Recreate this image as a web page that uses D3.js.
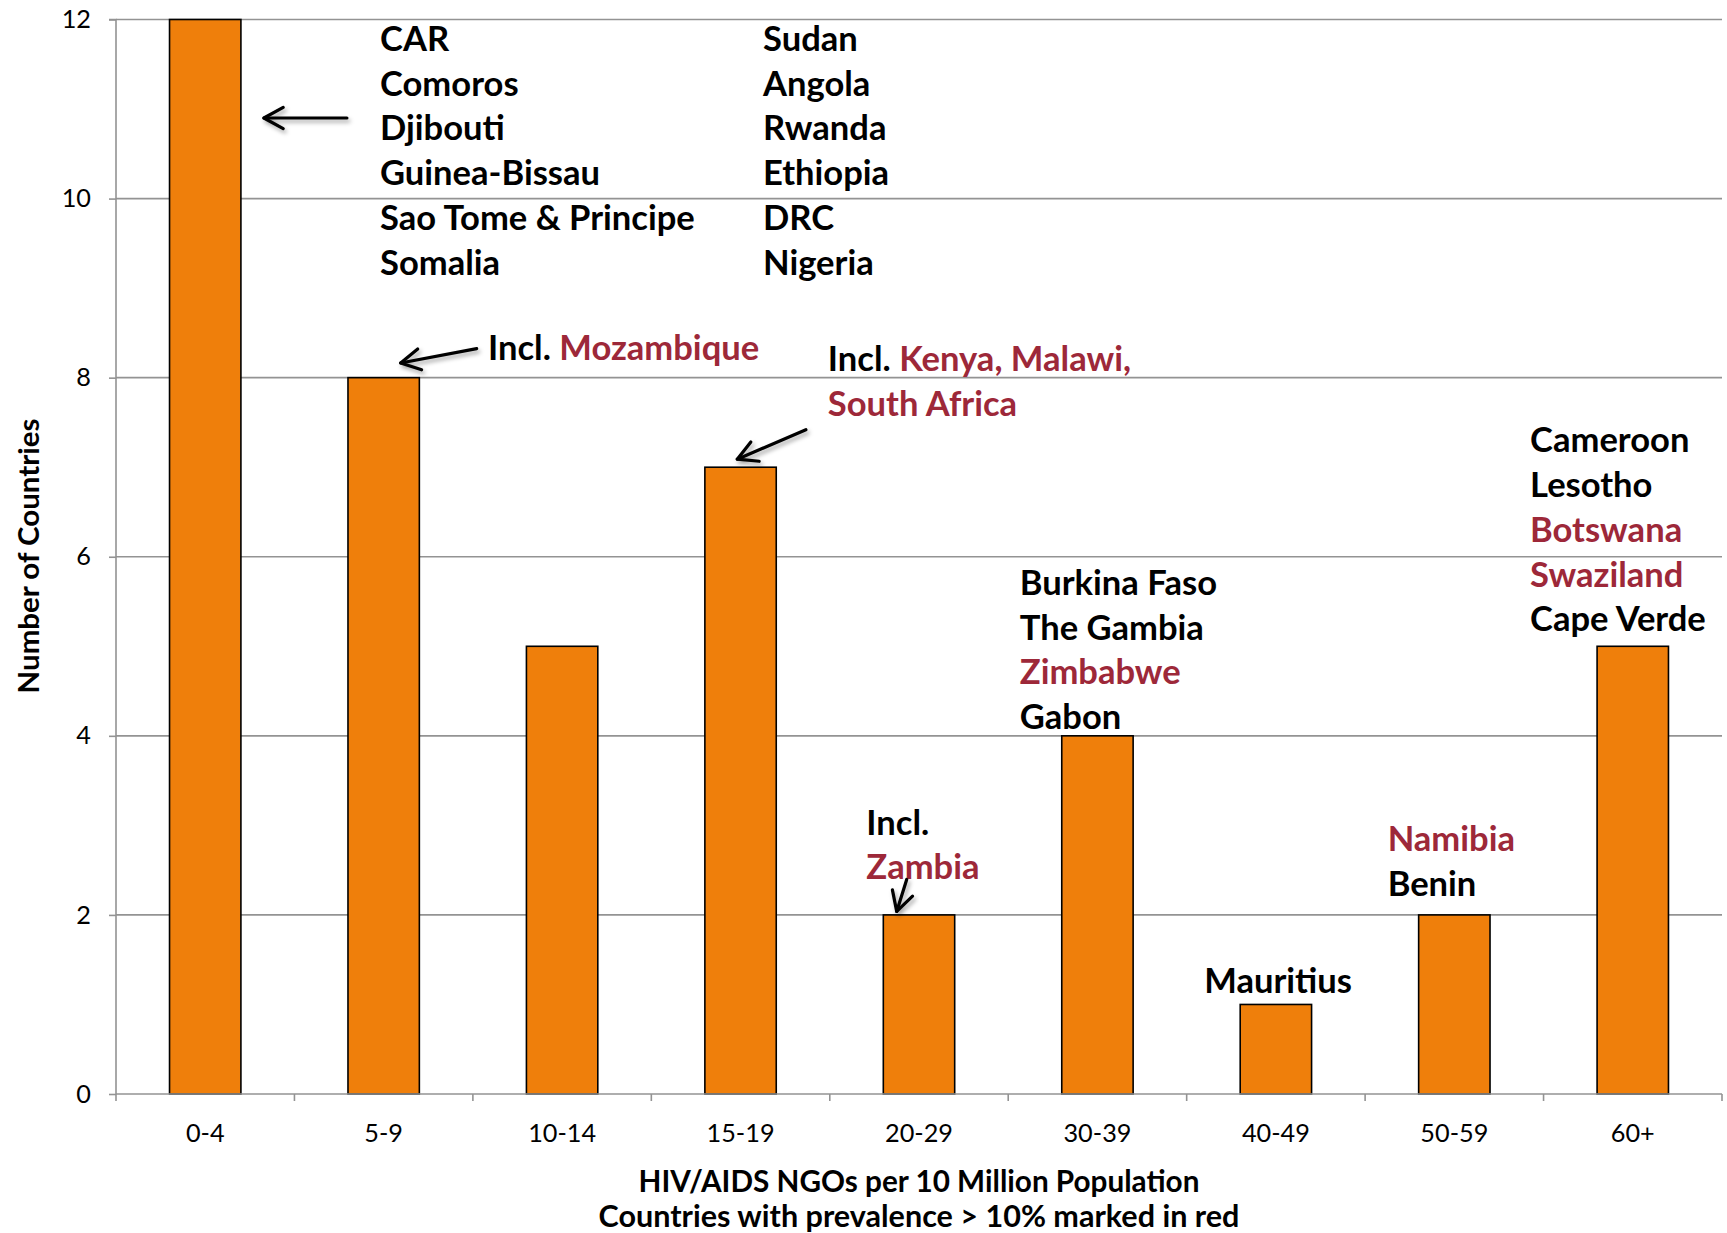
<!DOCTYPE html>
<html><head><meta charset="utf-8">
<script src="https://cdn.jsdelivr.net/npm/d3@7"></script>
<style>body{margin:0;background:#fff}svg{display:block}</style>
</head><body>
<svg id="c" width="1727" height="1233"></svg>
<script>
// ---------- data ----------
const categories = ["0-4","5-9","10-14","15-19","20-29","30-39","40-49","50-59","60+"];
const counts = [12, 8, 5, 7, 2, 4, 1, 2, 5];
const yTicks = [0, 2, 4, 6, 8, 10, 12];
const yTitle = "Number of Countries";
const xTitleLines = ["HIV/AIDS NGOs per 10 Million Population", "Countries with prevalence > 10% marked in red"];
// country lists: [name, prevalence > 10%]
const list0a = [["CAR",0],["Comoros",0],["Djibouti",0],["Guinea-Bissau",0],["Sao Tome & Principe",0],["Somalia",0]];
const list0b = [["Sudan",0],["Angola",0],["Rwanda",0],["Ethiopia",0],["DRC",0],["Nigeria",0]];
const list30 = [["Burkina Faso",0],["The Gambia",0],["Zimbabwe",1],["Gabon",0]];
const list40 = [["Mauritius",0]];
const list50 = [["Namibia",1],["Benin",0]];
const list60 = [["Cameroon",0],["Lesotho",0],["Botswana",1],["Swaziland",1],["Cape Verde",0]];
const inclMoz = [[["Incl. ",0],["Mozambique",1]]];
const inclKenya = [[["Incl. ",0],["Kenya, Malawi,",1]],[["South Africa",1]]];
const inclZambia = [[["Incl.",0]],[["Zambia",1]]];

// ---------- styles ----------
const ORANGE = "#ef7f0b", RED = "#9d2839", GRID = "#939393";
const plot = {left:116, right:1722, top:19.5, bottom:1094};
const svg = d3.select("#c");

const x = d3.scaleBand().domain(categories).range([plot.left, plot.right]).paddingInner(0.6).paddingOuter(0.3);
const y = d3.scaleLinear().domain([0,12]).range([plot.bottom, plot.top]);
const step = x.step(), bw = x.bandwidth();

// font fitting helper
function fitSize(text, family, weight, target, base=30){
  const t = svg.append("text").attr("font-family",family).attr("font-weight",weight).attr("font-size",base).text(text);
  const w = t.node().getComputedTextLength(); t.remove();
  return base*target/w;
}
const BOLD = "Lato", LIGHT = "Lato", AW = 700;
const annSize = fitSize("Sao Tome & Principe", BOLD, AW, 315);
const tickSize = fitSize("10-14", LIGHT, 400, 68, 22);
const xTitleSize1 = fitSize(xTitleLines[0], BOLD, AW, 561, 24);
const xTitleSize2 = fitSize(xTitleLines[1], BOLD, AW, 641, 24);
const yTitleSize = fitSize(yTitle, BOLD, AW, 275, 24);

// defs: arrow shadow
const defs = svg.append("defs");
const f = defs.append("filter").attr("id","sh").attr("x","-30%").attr("y","-60%").attr("width","160%").attr("height","220%");
f.append("feDropShadow").attr("dx",2).attr("dy",3).attr("stdDeviation",2).attr("flood-color","#000").attr("flood-opacity",0.35);

// gridlines
svg.append("g").selectAll("line").data(yTicks.filter(d=>d>0)).join("line")
  .attr("x1",plot.left).attr("x2",plot.right).attr("y1",d=>y(d)).attr("y2",d=>y(d))
  .attr("stroke",GRID).attr("stroke-width",1.6);

// bars
svg.append("g").selectAll("rect").data(categories).join("rect")
  .attr("x",d=>x(d)).attr("width",bw)
  .attr("y",(d,i)=>y(counts[i])).attr("height",(d,i)=>y(0)-y(counts[i]))
  .attr("fill",ORANGE).attr("stroke","#000").attr("stroke-width",1.6);

// y axis
const yAxis = svg.append("g").attr("transform",`translate(${plot.left},0)`)
  .call(d3.axisLeft(y).tickValues(yTicks).tickSize(7).tickPadding(18).tickFormat(d3.format("d")));
yAxis.select(".domain").attr("stroke",GRID).attr("stroke-width",1.6).attr("d",`M-7,${plot.top}H0V${plot.bottom}`);
yAxis.selectAll(".tick line").attr("stroke",GRID).attr("stroke-width",1.6);
yAxis.selectAll(".tick text").attr("font-family",LIGHT).attr("font-size",tickSize).attr("fill","#000");

// x axis
const xAxis = svg.append("g").attr("transform",`translate(0,${plot.bottom})`)
  .call(d3.axisBottom(x).tickSize(0).tickPadding(30));
xAxis.select(".domain").attr("stroke",GRID).attr("stroke-width",1.6).attr("d",`M${plot.left},0H${plot.right}`);
xAxis.selectAll(".tick text").attr("font-family",LIGHT).attr("font-size",tickSize).attr("fill","#000");
xAxis.append("g").selectAll("line").data(d3.range(categories.length+1)).join("line")
  .attr("x1",i=>plot.left+i*step).attr("x2",i=>plot.left+i*step).attr("y1",0).attr("y2",7)
  .attr("stroke",GRID).attr("stroke-width",1.6);

// axis titles
svg.append("text").attr("transform",`translate(39,556) rotate(-90)`).attr("text-anchor","middle")
  .attr("font-family",BOLD).attr("font-weight",AW).attr("font-size",yTitleSize).text(yTitle);
svg.append("g").selectAll("text").data(xTitleLines).join("text")
  .attr("x",(plot.left+plot.right)/2).attr("y",(d,i)=>1192+i*35).attr("text-anchor","middle")
  .attr("font-family",BOLD).attr("font-weight",AW).attr("font-size",(d,i)=>i?xTitleSize2:xTitleSize1).text(d=>d);

// annotations
const ann = svg.append("g").attr("font-family",BOLD).attr("font-weight",AW).attr("font-size",annSize);
function list(items, x0, y0, lh){
  ann.append("g").selectAll("text").data(items).join("text")
    .attr("x",x0).attr("y",(d,i)=>y0+i*lh).attr("fill",d=>d[1]?RED:"#000").text(d=>d[0]);
}
function rich(lines, x0, y0, lh){
  lines.forEach((segs,i)=>{
    const t = ann.append("text").attr("x",x0).attr("y",y0+i*lh);
    segs.forEach(s=>t.append("tspan").attr("fill",s[1]?RED:"#000").text(s[0]));
  });
}
function arrow(x1,y1,x2,y2){
  const a = Math.atan2(y1-y2, x1-x2), L = 22, sp = 0.5;
  const g = svg.append("g").attr("filter","url(#sh)").attr("stroke","#000").attr("stroke-width",3.2)
    .attr("fill","none").attr("stroke-linecap","round").attr("stroke-linejoin","round");
  g.append("line").attr("x1",x1).attr("y1",y1).attr("x2",x2).attr("y2",y2);
  g.append("path").attr("d",`M${x2+L*Math.cos(a+sp)},${y2+L*Math.sin(a+sp)}L${x2},${y2}L${x2+L*Math.cos(a-sp)},${y2+L*Math.sin(a-sp)}`);
}
const LH = 44.8;
list(list0a, x("0-4")+210.5, y(12)+31.2, LH);
list(list0b, x("0-4")+593.5, y(12)+31.2, LH);
arrow(x("0-4")+bw+106, y(12)+98.5, x("0-4")+bw+23, y(12)+98.5);

rich(inclMoz, x("5-9")+140, y(8)-18, LH);
arrow(x("5-9")+128.7, y(8)-29, x("5-9")+52.7, y(8)-14.7);

rich(inclKenya, x("15-19")+123, y(7)-96, 44.5);
arrow(x("15-19")+101, y(7)-37.5, x("15-19")+32.4, y(7)-8);

rich(inclZambia, x("20-29")-17, y(2)-80, 44);
arrow(x("20-29")+23.4, y(2)-35.5, x("20-29")+13.4, y(2)-3.5);

list(list30, x("30-39")-42, y(4)-140.8, 44.5);
list(list40, x("40-49")-36, y(1)-11, LH);
list(list50, x("50-59")-31, y(2)-64, 45);
list(list60, x("60+")-67, y(5)-194, 44.8);
</script>
</body></html>
